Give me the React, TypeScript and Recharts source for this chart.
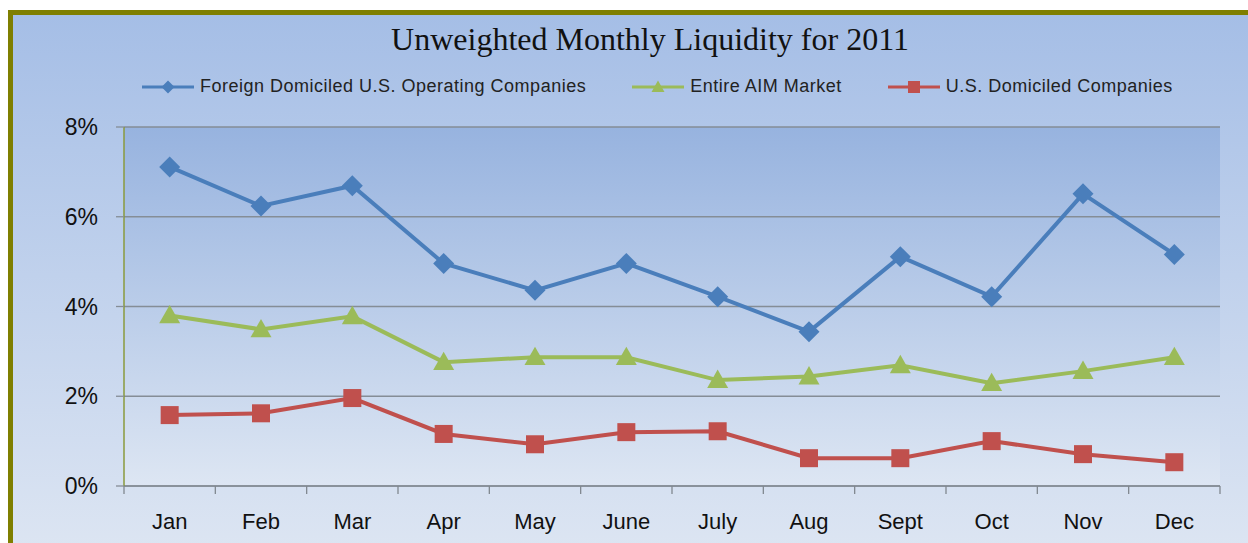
import React from "react";
import { LineChart, Line, XAxis, YAxis, CartesianGrid, Legend } from "recharts";

// values in percent
const months = ["Jan", "Feb", "Mar", "Apr", "May", "June", "July", "Aug", "Sept", "Oct", "Nov", "Dec"];
const foreignDomiciled = [7.11, 6.24, 6.69, 4.96, 4.36, 4.96, 4.22, 3.44, 5.11, 4.22, 6.51, 5.16];
const entireAim = [3.8, 3.49, 3.78, 2.76, 2.87, 2.87, 2.36, 2.44, 2.69, 2.29, 2.56, 2.87];
const usDomiciled = [1.58, 1.62, 1.96, 1.16, 0.93, 1.2, 1.22, 0.62, 0.62, 1.0, 0.71, 0.53];
const yTicks = [0, 2, 4, 6, 8];
const seriesOrder = ["foreign", "aim", "us"];

const data = months.map((m, i) => ({
  month: m,
  foreign: foreignDomiciled[i],
  aim: entireAim[i],
  us: usDomiciled[i],
}));

const BLUE = "#4a7ebb";
const GREEN = "#9bbb59";
const RED = "#c0504d";

const PLOT_LEFT = 124;
const PLOT_RIGHT = 1220;
const STEP = (PLOT_RIGHT - PLOT_LEFT) / months.length;

const Diamond = ({ cx, cy, fill, r = 10.5 }: any) => (
  <path d={`M${cx},${cy - r}L${cx + r},${cy}L${cx},${cy + r}L${cx - r},${cy}Z`} fill={fill} />
);
const Triangle = ({ cx, cy, fill, r = 10.5 }: any) => (
  <path d={`M${cx},${cy - r}L${cx + r},${cy + r * 0.75}L${cx - r},${cy + r * 0.75}Z`} fill={fill} />
);
const Square = ({ cx, cy, fill, r = 9 }: any) => (
  <rect x={cx - r} y={cy - r} width={r * 2} height={r * 2} fill={fill} />
);

const markers: Record<string, any> = { foreign: Diamond, aim: Triangle, us: Square };

const MonthTick = (props: any) => {
  const { x, y, payload, index } = props;
  return (
    <g>
      <line x1={x - STEP / 2} y1={y} x2={x - STEP / 2} y2={y + 8} stroke="#808890" strokeWidth={1.3} />
      {index === months.length - 1 && (
        <line x1={x + STEP / 2} y1={y} x2={x + STEP / 2} y2={y + 8} stroke="#808890" strokeWidth={1.3} />
      )}
      <text x={x} y={y + 43} textAnchor="middle" fontSize={22} fill="#111" fontFamily="Liberation Sans, Arial, sans-serif">
        {payload.value}
      </text>
    </g>
  );
};

const LegendContent = ({ payload }: any) => {
  const items = [...(payload || [])].sort(
    (a: any, b: any) => seriesOrder.indexOf(a.dataKey) - seriesOrder.indexOf(b.dataKey)
  );
  return (
    <div
      style={{
        display: "flex",
        gap: 46,
        fontFamily: "Liberation Sans, Arial, sans-serif",
        fontSize: 18,
        letterSpacing: 0.5,
        color: "#222",
        whiteSpace: "nowrap",
      }}
    >
      {items.map((p: any) => {
        const Marker = markers[p.dataKey];
        return (
          <div key={p.dataKey} style={{ display: "flex", alignItems: "center" }}>
            <svg width={52} height={20} style={{ marginRight: 6 }}>
              <line x1={0} y1={10} x2={52} y2={10} stroke={p.color} strokeWidth={3} />
              <Marker cx={26} cy={10} fill={p.color} r={p.dataKey === "us" ? 6 : 6.5} />
            </svg>
            <span>{p.value}</span>
          </div>
        );
      })}
    </div>
  );
};

export default function App() {
  return (
    <div style={{ position: "relative", width: 1248, height: 543, overflow: "hidden", background: "#fff" }}>
      <style>{"body{margin:0;overflow:hidden}"}</style>
      <div
        style={{
          position: "absolute",
          left: 8,
          top: 10,
          width: 1260,
          height: 560,
          borderLeft: "5px solid #7f7f00",
          borderTop: "5px solid #7f7f00",
          background: "linear-gradient(#a5bee6, #dfe7f3)",
        }}
      />
      <div
        style={{
          position: "absolute",
          left: 0,
          width: 1300,
          top: 21,
          textAlign: "center",
          fontFamily: "Liberation Serif, Times New Roman, serif",
          fontSize: 32,
          color: "#111",
        }}
      >
        Unweighted Monthly Liquidity for 2011
      </div>
      <div style={{ position: "absolute", left: 0, top: 0 }}>
        <LineChart width={1248} height={543} data={data} margin={{ top: 106, right: 28, left: 0, bottom: 0 }}>
          <defs>
            <linearGradient id="plotBg" x1="0" y1="0" x2="0" y2="1">
              <stop offset="0%" stopColor="#97b3df" />
              <stop offset="100%" stopColor="#dde6f3" />
            </linearGradient>
          </defs>
          <CartesianGrid vertical={false} stroke="#858d96" strokeWidth={1.3} fill="url(#plotBg)" />
          <XAxis
            dataKey="month"
            scale="band"
            height={57}
            axisLine={{ stroke: "#858d96", strokeWidth: 1.3 }}
            tickLine={false}
            tickSize={0}
            tickMargin={0}
            tick={<MonthTick />}
            interval={0}
          />
          <YAxis
            width={124}
            domain={[0, 8]}
            ticks={yTicks}
            tickFormatter={(v) => `${v}%`}
            axisLine={{ stroke: "#8a9a3c", strokeWidth: 1.5 }}
            tickLine={{ stroke: "#858d96", strokeWidth: 1.3 }}
            tickSize={8}
            tickMargin={18}
            tick={{ fontSize: 23, fill: "#111", fontFamily: "Liberation Sans, Arial, sans-serif" }}
          />
          <Legend
            verticalAlign="top"
            wrapperStyle={{ top: 76, left: 142, width: "auto" }}
            content={<LegendContent />}
          />
          <Line
            dataKey="foreign"
            name="Foreign Domiciled U.S. Operating Companies"
            stroke={BLUE}
            strokeWidth={4}
            dot={(p: any) => <Diamond key={p.index} cx={p.cx} cy={p.cy} fill={BLUE} />}
            isAnimationActive={false}
          />
          <Line
            dataKey="aim"
            name="Entire AIM Market"
            stroke={GREEN}
            strokeWidth={4}
            dot={(p: any) => <Triangle key={p.index} cx={p.cx} cy={p.cy} fill={GREEN} />}
            isAnimationActive={false}
          />
          <Line
            dataKey="us"
            name="U.S. Domiciled Companies"
            stroke={RED}
            strokeWidth={4}
            dot={(p: any) => <Square key={p.index} cx={p.cx} cy={p.cy} fill={RED} />}
            isAnimationActive={false}
          />
        </LineChart>
      </div>
    </div>
  );
}
